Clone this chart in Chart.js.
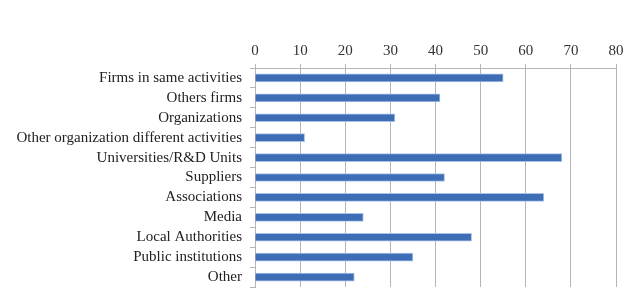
<!DOCTYPE html>
<html>
<head>
<meta charset="utf-8">
<script src="https://cdn.jsdelivr.net/npm/chart.js@4/dist/chart.umd.min.js"></script>
<style>
html,body{margin:0;padding:0;background:#fff;}
#wrap{width:639px;height:293px;position:relative;}
</style>
</head>
<body>
<div id="wrap"><canvas id="c" width="639" height="293"></canvas></div>
<script>
const categories = [
  "Firms in same activities",
  "Others firms",
  "Organizations",
  "Other organization different activities",
  "Universities/R&D Units",
  "Suppliers",
  "Associations",
  "Media",
  "Local Authorities",
  "Public institutions",
  "Other"
];
const values = [55, 41, 31, 11, 68, 42, 64, 24, 48, 35, 22];
const xTicks = [0, 10, 20, 30, 40, 50, 60, 70, 80];

const font = {family: "'Liberation Serif', 'DejaVu Serif', serif", size: 15};

new Chart(document.getElementById('c'), {
  type: 'bar',
  data: {
    labels: categories,
    datasets: [{
      data: values,
      backgroundColor: '#3d6db5',
      borderColor: '#a8c2e6',
      borderWidth: 1,
      borderSkipped: 'start',
      barThickness: 8
    }]
  },
  options: {
    indexAxis: 'y',
    responsive: false,
    animation: false,
    maintainAspectRatio: false,
    layout: {padding: {left: 0, right: 23, top: 0, bottom: 6}},
    plugins: {legend: {display: false}, tooltip: {enabled: false}},
    scales: {
      x: {
        position: 'top',
        min: xTicks[0],
        max: xTicks[xTicks.length - 1],
        afterBuildTicks: (s) => { s.ticks = xTicks.map(v => ({value: v})); },
        afterFit: (s) => { s.height = 68; s.paddingLeft = 0; s.paddingRight = 0; },
        ticks: {font: font, color: '#333', padding: 4, autoSkip: false, maxRotation: 0},
        grid: {color: '#b5b5b5', tickLength: 4, lineWidth: 1},
        border: {color: '#b5b5b5'}
      },
      y: {
        afterFit: (s) => { s.width = 255; s.paddingTop = 0; s.paddingBottom = 0; },
        ticks: {font: font, color: '#222', padding: 8, autoSkip: false},
        grid: {drawOnChartArea: false, offset: true, tickLength: 5, color: '#b5b5b5'},
        border: {color: '#b5b5b5'}
      }
    }
  }
});
</script>
</body>
</html>
